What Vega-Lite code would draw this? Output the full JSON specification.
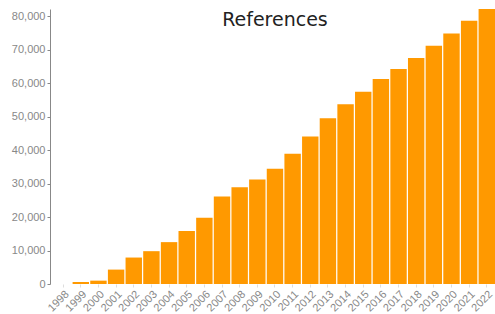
{
  "$schema": "https://vega.github.io/schema/vega-lite/v6.json",
  "width": 495,
  "height": 314,
  "autosize": {"type": "fit", "contains": "padding"},
  "padding": {"left": 11, "top": 9, "right": 0, "bottom": 0},
  "background": "white",
  "encoding": {
    "x": {
      "field": "year",
      "type": "ordinal",
      "scale": {"paddingInner": 0.07, "paddingOuter": 0.14, "align": 1},
      "axis": {
        "title": null,
        "labelAngle": -45,
        "labelColor": "#888888",
        "labelFont": "Liberation Sans",
        "labelFontSize": 11,
        "labelPadding": 1,
        "domain": false,
        "ticks": true,
        "tickColor": "#dddddd",
        "tickSize": 3
      }
    },
    "y": {
      "field": "count",
      "type": "quantitative",
      "scale": {"nice": false, "domain": [0, 82100]},
      "axis": {
        "title": null,
        "values": [0, 10000, 20000, 30000, 40000, 50000, 60000, 70000, 80000],
        "format": ",.0f",
        "grid": false,
        "labelColor": "#888888",
        "labelFont": "Liberation Sans",
        "labelFontSize": 11,
        "labelPadding": 2,
        "domainColor": "#888888",
        "tickColor": "#888888",
        "tickSize": 3
      }
    }
  },
  "layer": [
    {
      "data": {
        "values": [
          {"year": "1998", "count": 0},
          {"year": "1999", "count": 600},
          {"year": "2000", "count": 1000},
          {"year": "2001", "count": 4300},
          {"year": "2002", "count": 7900},
          {"year": "2003", "count": 9800},
          {"year": "2004", "count": 12500},
          {"year": "2005", "count": 15800},
          {"year": "2006", "count": 19800},
          {"year": "2007", "count": 26100},
          {"year": "2008", "count": 28900},
          {"year": "2009", "count": 31200},
          {"year": "2010", "count": 34400},
          {"year": "2011", "count": 38900},
          {"year": "2012", "count": 44000},
          {"year": "2013", "count": 49500},
          {"year": "2014", "count": 53700},
          {"year": "2015", "count": 57400},
          {"year": "2016", "count": 61200},
          {"year": "2017", "count": 64200},
          {"year": "2018", "count": 67500},
          {"year": "2019", "count": 71100},
          {"year": "2020", "count": 74800},
          {"year": "2021", "count": 78600},
          {"year": "2022", "count": 82100}
        ]
      },
      "mark": {"type": "bar", "color": "#FF9900"}
    },
    {
      "data": {"values": [{"year": "2010", "count": 77000, "label": "References"}]},
      "mark": {
        "type": "text",
        "font": "DejaVu Sans",
        "fontSize": 19,
        "color": "#222222",
        "align": "center",
        "baseline": "alphabetic"
      },
      "encoding": {
        "text": {"field": "label", "type": "nominal"}
      }
    }
  ],
  "config": {"view": {"stroke": null}}
}
